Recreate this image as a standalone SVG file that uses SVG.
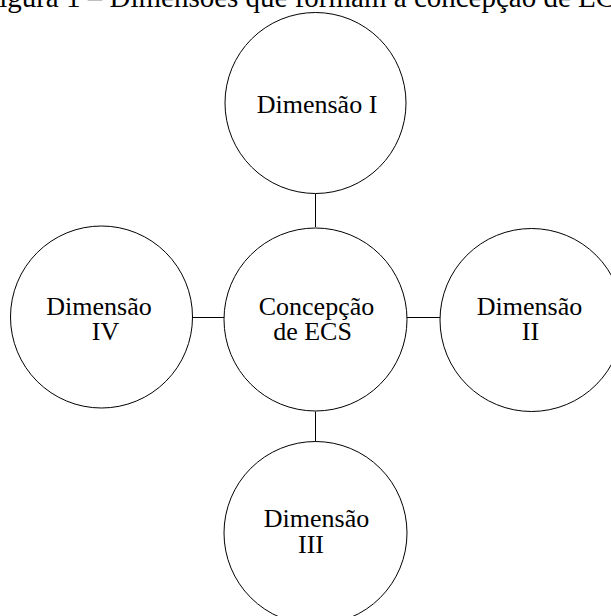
<svg xmlns="http://www.w3.org/2000/svg" width="611" height="616" viewBox="0 0 611 616">
<style>
.c{fill:#fff;stroke:#000;stroke-width:1}
.l{stroke:#000;stroke-width:1;fill:none}
text{font-family:"Liberation Serif","Times New Roman",serif;font-size:26px;fill:#000;text-anchor:middle}
.t{font-size:29px;text-anchor:start}
</style>
<rect width="611" height="616" fill="#fff"/>
<text class="t" x="-17" y="7">Figura 1 – Dimensões que formam a concepção de ECS</text>
<g id="connectors">
<line class="l" x1="315.5" y1="193.5" x2="315.5" y2="227"/>
<line class="l" x1="192" y1="317.5" x2="225" y2="317.5"/>
<line class="l" x1="406" y1="317.5" x2="440" y2="317.5"/>
<line class="l" x1="315.5" y1="411.5" x2="315.5" y2="442"/>
</g>
<g id="dim1">
<circle class="c" cx="315.5" cy="103" r="90.5"/>
<text x="317" y="112.5">Dimensão I</text>
</g>
<g id="center">
<circle class="c" cx="315.5" cy="319.5" r="91.5"/>
<text x="316.5" y="314.5">Concepção</text>
<text x="312.5" y="339.5">de ECS</text>
</g>
<g id="dim4">
<circle class="c" cx="101.5" cy="317" r="91"/>
<text x="99" y="315">Dimensão</text>
<text x="105.5" y="340">IV</text>
</g>
<g id="dim2">
<circle class="c" cx="531.5" cy="320" r="91.5"/>
<text x="529.5" y="314.5">Dimensão</text>
<text x="530.5" y="340">II</text>
</g>
<g id="dim3">
<circle class="c" cx="315.5" cy="533" r="91.5"/>
<text x="316.5" y="526.5">Dimensão</text>
<text x="311" y="553">III</text>
</g>
</svg>
